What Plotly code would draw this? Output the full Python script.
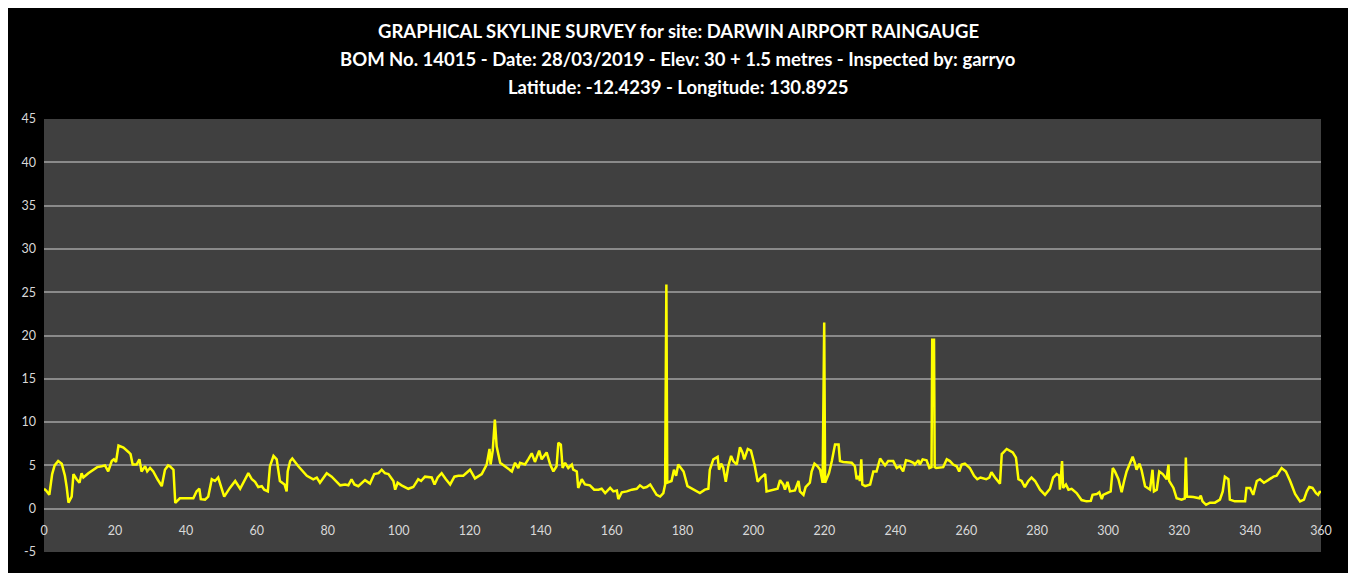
import plotly.graph_objects as go

# Azimuth (degrees) and skyline elevation (degrees)
azimuth = [
    0.0, 0.6, 1.5, 2.3, 3.0, 4.0, 5.0, 5.9, 6.4, 6.9, 7.8, 8.3, 9.2, 10.0, 10.6, 11.1, 12.5, 13.9, 15.0, 16.3,
    17.2, 18.1, 19.1, 19.7, 20.3, 21.0, 22.4, 23.8, 24.4, 25.0, 26.1, 26.9, 27.5, 28.5, 29.1, 29.9, 30.8, 32.0,
    33.2, 34.1, 35.0, 35.5, 36.5, 37.0, 37.9, 38.3, 42.1, 43.0, 43.8, 44.2, 45.4, 46.3, 47.3, 48.2, 49.1, 49.6,
    50.8, 52.4, 53.9, 55.3, 56.7, 57.6, 58.6, 59.5, 60.4, 61.4, 62.1, 63.1, 63.7, 64.7, 65.6, 66.5, 67.8, 68.4,
    68.7, 69.4, 70.0, 71.7, 74.1, 75.9, 76.9, 77.8, 79.7, 81.1, 83.5, 84.9, 85.8, 86.7, 87.5, 88.6, 90.5, 91.9,
    93.1, 94.3, 95.2, 96.1, 97.1, 98.5, 99.0, 99.7, 100.8, 102.7, 104.1, 105.5, 106.3, 107.4, 109.3, 110.1,
    111.0, 112.1, 113.3, 114.5, 115.7, 116.8, 118.2, 120.1, 121.5, 123.4, 124.8, 125.6, 125.9, 126.5, 127.1,
    127.6, 128.6, 130.0, 131.9, 132.8, 133.7, 134.2, 135.6, 136.5, 137.5, 138.4, 139.6, 140.3, 141.0, 141.7,
    142.7, 143.6, 144.5, 145.0, 145.7, 146.2, 146.9, 147.8, 148.8, 149.2, 150.2, 150.6, 151.6, 152.5, 153.9,
    155.1, 156.3, 157.2, 158.2, 159.6, 160.5, 161.5, 161.9, 162.9, 164.3, 165.7, 167.1, 168.0, 169.0, 169.9,
    170.9, 171.8, 172.7, 173.7, 174.6, 175.1, 175.45, 175.7, 176.9, 177.6, 178.2, 178.8, 179.5, 180.3, 181.4,
    183.1, 184.9, 186.3, 187.3, 187.7, 188.7, 189.9, 190.3, 190.9, 191.5, 192.2, 192.9, 193.7, 194.3, 195.3,
    196.2, 196.9, 197.4, 198.4, 199.3, 200.4, 201.2, 202.1, 203.3, 203.7, 205.1, 206.8, 207.5, 208.4, 208.9,
    209.6, 210.3, 211.7, 212.7, 213.1, 214.1, 214.7, 215.9, 216.4, 217.2, 218.1, 218.8, 219.5, 219.95, 220.2,
    220.6, 221.3, 222.1, 223.0, 224.0, 224.4, 225.3, 227.7, 228.6, 229.1, 229.6, 230.0, 230.4, 230.7, 231.5,
    232.9, 233.8, 234.7, 235.7, 236.6, 237.1, 238.0, 239.4, 240.4, 241.3, 242.2, 243.0, 244.1, 245.1, 245.5,
    246.5, 246.9, 247.7, 248.8, 249.6, 250.2, 250.4, 250.9, 251.1, 251.5, 253.5, 254.5, 255.4, 256.3, 257.3,
    258.0, 258.7, 259.6, 261.0, 262.2, 263.1, 264.0, 265.6, 266.5, 267.1, 268.1, 269.5, 270.0, 271.4, 273.1,
    274.0, 274.7, 275.6, 276.5, 277.5, 278.4, 279.4, 280.8, 282.2, 283.6, 284.5, 285.5, 286.2, 286.4, 287.0,
    287.3, 288.1, 288.8, 289.7, 291.1, 292.5, 293.9, 295.1, 295.6, 296.8, 297.5, 298.2, 298.6, 300.0, 300.7,
    301.3, 301.9, 302.9, 303.8, 304.5, 305.2, 306.0, 306.9, 307.5, 308.0, 308.8, 309.4, 310.4, 311.0, 311.8,
    312.5, 312.9, 313.7, 314.4, 315.4, 316.5, 317.0, 317.2, 318.4, 319.3, 320.7, 321.6, 321.9, 322.2, 324.0,
    325.7, 326.1, 326.6, 327.6, 328.7, 330.1, 331.5, 332.3, 332.9, 333.9, 334.3, 335.7, 338.6, 339.0, 340.0,
    340.9, 341.9, 342.8, 343.9, 345.1, 346.6, 347.5, 348.2, 348.9, 350.1, 351.3, 352.7, 354.1, 355.2, 356.0,
    356.7, 357.6, 358.6, 359.2, 359.7, 360.0,
]
elevation = [
    2.3, 2.1, 1.6, 4.0, 5.0, 5.5, 5.2, 3.8, 2.5, 0.7, 1.4, 4.0, 3.4, 3.0, 4.1, 3.6, 4.1, 4.5, 4.8, 4.9,
    5.0, 4.3, 5.5, 5.7, 5.4, 7.3, 7.05, 6.55, 6.3, 5.1, 5.1, 5.7, 4.3, 4.9, 4.3, 4.7, 4.3, 3.4,
    2.6, 4.5, 5.0, 4.9, 4.5, 0.66, 1.05, 1.2, 1.2, 2.0, 2.3, 1.1, 1.05, 1.4, 3.4, 3.2, 3.6, 3.0,
    1.4, 2.4, 3.2, 2.3, 3.4, 4.1, 3.4, 3.1, 2.5, 2.6, 2.2, 2.0, 4.9, 6.1, 5.7, 3.2, 2.8, 2.0,
    4.3, 5.5, 5.8, 4.9, 3.8, 3.4, 3.6, 3.0, 4.1, 3.7, 2.7, 2.8, 2.7, 3.4, 2.8, 2.6, 3.3, 2.9,
    4.0, 4.1, 4.5, 4.1, 4.0, 3.2, 2.2, 3.0, 2.7, 2.3, 2.5, 3.4, 3.2, 3.7, 3.6, 2.8,
    3.6, 4.1, 3.4, 2.8, 3.7, 3.8, 3.8, 4.5, 3.5, 4.0, 5.1, 6.9, 5.1, 6.7, 10.3,
    7.2, 5.3, 4.9, 4.3, 5.3, 4.7, 5.3, 5.1, 5.7, 6.4, 5.4, 6.7, 5.7, 6.1, 6.5,
    5.1, 4.3, 4.9, 7.6, 7.4, 4.7, 5.3, 4.7, 5.1, 4.5, 4.3, 2.4, 3.4, 2.8, 2.7,
    2.2, 2.2, 2.3, 1.8, 2.4, 2.0, 2.1, 1.1, 1.9, 2.0, 2.2, 2.3, 2.7, 2.4, 2.5,
    2.8, 2.2, 1.6, 1.4, 1.8, 2.8, 25.9, 3.0, 3.2, 4.5, 3.8, 5.1, 4.7, 4.3, 2.6,
    2.2, 1.8, 2.2, 2.3, 4.5, 5.7, 6.0, 4.5, 5.2, 4.7, 3.1, 4.9, 6.1, 5.5, 5.1,
    7.1, 6.5, 5.7, 6.9, 6.7, 4.9, 3.1, 3.6, 4.0, 2.0, 2.1, 2.3, 3.3, 2.8, 2.2,
    3.1, 2.0, 2.1, 3.2, 2.0, 1.6, 2.5, 3.0, 4.3, 5.2, 4.9, 4.5, 3.0, 21.5, 3.0,
    3.4, 4.1, 5.5, 7.4, 7.4, 5.5, 5.4, 5.3, 4.9, 3.4, 3.8, 3.2, 5.7, 2.8, 2.6,
    2.8, 4.3, 4.3, 5.8, 5.3, 5.0, 5.5, 5.5, 4.7, 4.9, 4.3, 5.6, 5.5, 5.3, 5.1,
    5.6, 5.1, 5.7, 5.6, 4.7, 4.8, 19.5, 19.5, 4.8, 4.7, 4.8, 5.7, 5.5, 5.1, 4.9,
    4.3, 5.1, 5.2, 4.7, 3.8, 3.4, 3.6, 3.4, 3.6, 4.2, 3.6, 2.9, 6.3, 6.9, 6.5,
    5.9, 3.4, 3.2, 2.5, 3.2, 3.6, 3.2, 2.2, 1.6, 2.3, 3.6, 4.0, 3.8, 2.2, 5.5,
    2.4, 2.8, 2.2, 2.3, 1.8, 1.0, 0.85, 0.9, 1.6, 1.7, 1.9, 1.1, 1.6, 1.9, 2.0,
    4.7, 4.3, 3.4, 1.9, 3.2, 4.3, 5.1, 6.0, 5.3, 4.5, 5.2, 4.5, 2.6, 2.4, 2.2,
    4.5, 2.0, 2.2, 4.3, 4.0, 3.4, 5.1, 3.2, 2.4, 1.2, 1.05, 1.2, 5.9, 1.4, 1.35,
    1.2, 1.5, 0.85, 0.45, 0.7, 0.7, 1.05, 2.0, 3.7, 3.4, 1.05, 0.85, 0.85, 2.4, 2.4,
    1.6, 3.2, 3.4, 3.0, 3.3, 3.7, 3.8, 4.3, 4.7, 4.3, 3.2, 1.7, 0.85, 1.05, 2.0,
    2.5, 2.4, 1.8, 1.6, 2.0, 1.8,
]

x_ticks = list(range(0, 361, 20))
y_ticks = list(range(-5, 46, 5))

title_lines = [
    "GRAPHICAL SKYLINE SURVEY for site: DARWIN AIRPORT RAINGAUGE",
    "BOM No. 14015 - Date: 28/03/2019 - Elev: 30 + 1.5 metres - Inspected by: garryo",
    "Latitude: -12.4239 - Longitude: 130.8925",
]

fig = go.Figure()
fig.add_trace(go.Scatter(
    x=azimuth, y=elevation, mode="lines",
    line=dict(color="#ffff00", width=2.5),
    hoverinfo="x+y", showlegend=False,
))

# page has an 8px body margin; figure coordinates are page coordinates minus 8
OFF = 8
W, H = 1356 - 2 * OFF, 573 - OFF
L, R, T, B = 44 - OFF, 1321 - OFF, 119 - OFF, 552 - OFF
pw, ph = R - L, B - T

def px_to_paper_x(px):
    return (px - OFF - L) / pw

def py_to_paper_y(py):
    return (B - (py - OFF)) / ph

annotations = []
for txt, py in zip(title_lines, [31, 59, 87]):
    annotations.append(dict(
        text="<b>" + txt + "</b>", x=px_to_paper_x(678), y=py_to_paper_y(py),
        xref="paper", yref="paper", xanchor="center", yanchor="middle",
        showarrow=False, font=dict(family="Lato, Open Sans, sans-serif", size=18.5, color="#ffffff"),
    ))

fig.update_layout(
    width=W, height=H,
    margin=dict(l=L, r=W - R, t=T, b=H - B, pad=0),
    paper_bgcolor="#000000",
    plot_bgcolor="#404040",
    annotations=annotations,
    font=dict(family="Lato, Open Sans, sans-serif", size=12, color="#d9d9d9"),
    xaxis=dict(
        range=[0, 360], tickvals=x_ticks, ticktext=[str(v) for v in x_ticks],
        showgrid=False, zeroline=False, showline=False,
        anchor="free", position=0.1,
        ticks="", ticklabelstandoff=13,
        tickfont=dict(size=12.5, color="#d9d9d9"),
    ),
    yaxis=dict(
        range=[-5, 45], tickvals=y_ticks, ticktext=[str(v) for v in y_ticks],
        showgrid=True, gridcolor="#8a8a8a", gridwidth=1.6,
        zeroline=False, showline=False,
        ticks="", ticklabelstandoff=7,
        tickfont=dict(size=12.5, color="#d9d9d9"),
    ),
)

fig.write_html("out.html")
